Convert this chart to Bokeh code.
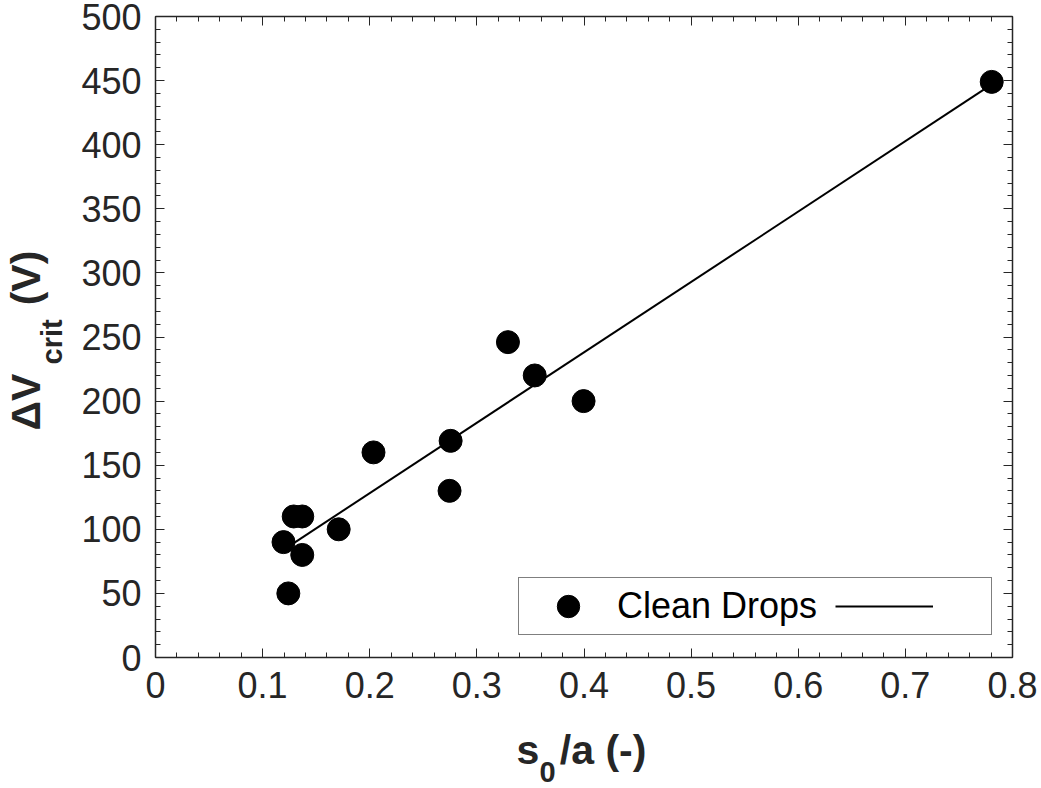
import math
from bokeh.plotting import figure
from bokeh.models import (Range1d, FixedTicker, LinearAxis, Label, Legend, LegendItem,
                          CustomJSTickFormatter, ColumnDataSource)
from bokeh.embed import file_html
from bokeh.resources import INLINE

# ---- data ----
s0_over_a = [0.1195, 0.124, 0.129, 0.137, 0.137, 0.171, 0.2035, 0.2745, 0.2755, 0.329, 0.354, 0.3996, 0.7806]
dv_crit = [90, 50, 110, 110, 80, 100, 160, 130, 169, 246, 220, 200, 449]
fit_x = [0.1195, 0.7806]
fit_y = [84, 447]
x_ticks = [0, 0.1, 0.2, 0.3, 0.4, 0.5, 0.6, 0.7, 0.8]
x_tick_labels = ["0", "0.1", "0.2", "0.3", "0.4", "0.5", "0.6", "0.7", "0.8"]
y_ticks = [0, 50, 100, 150, 200, 250, 300, 350, 400, 450, 500]
y_tick_labels = [str(v) for v in y_ticks]
legend_label = "Clean Drops"

FONT = "Liberation Sans"
AX = "#262626"
NB = "\u00a0"

p = figure(width=1041, height=788, output_backend="svg", toolbar_location=None,
           x_range=Range1d(0, 0.8), y_range=Range1d(0, 500),
           min_border_left=155, min_border_right=29, min_border_top=16, min_border_bottom=131)
p.xaxis.visible = False
p.yaxis.visible = False
p.grid.visible = False
p.outline_line_color = None
p.background_fill_color = "white"
p.border_fill_color = "white"

x_minor = [round(i * 0.02, 4) for i in range(41)]
y_minor = [i * 10 for i in range(51)]
xt = FixedTicker(ticks=x_ticks, minor_ticks=x_minor)
yt = FixedTicker(ticks=y_ticks, minor_ticks=y_minor)

blank = CustomJSTickFormatter(code="return '';")

def style(ax):
    ax.axis_line_color = AX
    ax.axis_line_width = 1.5
    ax.major_tick_line_color = AX
    ax.minor_tick_line_color = AX
    ax.major_tick_in = 9
    ax.major_tick_out = 0
    ax.minor_tick_in = 5
    ax.minor_tick_out = 0
    ax.major_label_text_font = FONT
    ax.major_label_text_font_size = "36px"
    ax.major_label_text_color = AX

bottom = LinearAxis(ticker=xt, major_label_overrides=dict(zip(x_ticks, x_tick_labels)))
style(bottom)
bottom.major_label_standoff = 14
p.add_layout(bottom, "below")

left = LinearAxis(ticker=yt, major_label_overrides=dict(zip(y_ticks, y_tick_labels)))
style(left)
left.major_label_standoff = 14
p.add_layout(left, "left")

top = LinearAxis(ticker=xt, formatter=blank)
style(top)
top.major_label_standoff = 0
p.add_layout(top, "above")

right = LinearAxis(ticker=yt, formatter=blank)
style(right)
right.major_label_standoff = 0
p.add_layout(right, "right")

src = ColumnDataSource(dict(x=s0_over_a, y=dv_crit))
ln = p.line(fit_x, fit_y, line_color="black", line_width=2)
sc = p.scatter("x", "y", source=src, size=23, fill_color="black", line_color="black")

legend = Legend(items=[LegendItem(label=legend_label, renderers=[sc]),
                       LegendItem(label="", renderers=[ln])],
                orientation="horizontal", location=(363, 22),
                glyph_width=98, glyph_height=56, label_standoff=0, spacing=18,
                padding=0, margin=0, label_width=58,
                label_text_font=FONT, label_text_font_size="36px", label_text_color="black",
                border_line_color="black", border_line_width=1,
                background_fill_color="white", background_fill_alpha=1)
p.add_layout(legend, "center")

# ---- axis titles with subscripts ----
def lab(text, x, y, size, side, angle=0):
    p.add_layout(Label(x=x, y=y, x_units="canvas", y_units="canvas", text=text,
                       text_font=FONT, text_font_size=size, text_font_style="bold",
                       text_color=AX, text_align="left", text_baseline="alphabetic",
                       angle=angle), side)

lab("s\u2002/a (-)", 516, 749, "41px", "below")
lab("0", 539, 771, "29px", "below")

lab("\u0394V" + NB * 6 + "(V)", 25, 430, "41px", "left", math.pi / 2)
lab("crit", 51, 364, "29px", "left", math.pi / 2)

open("out.html", "w").write(file_html(p, INLINE))
